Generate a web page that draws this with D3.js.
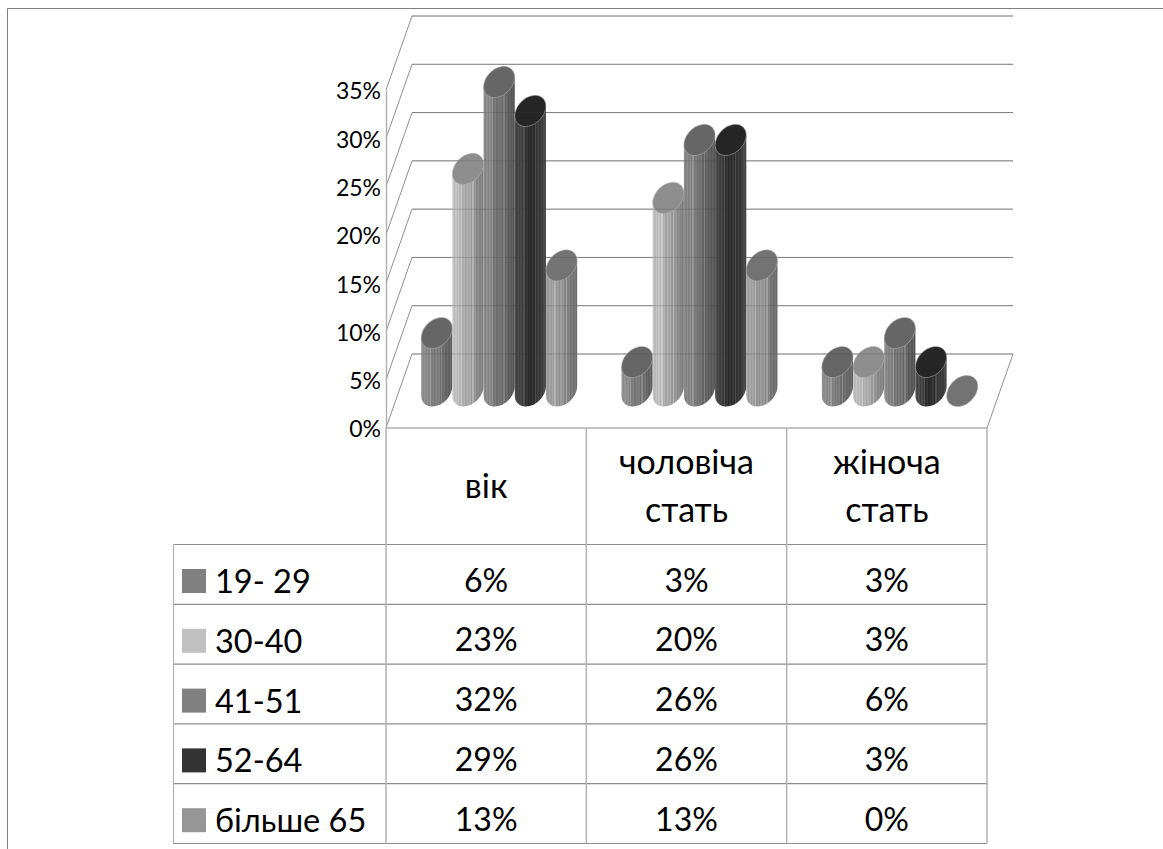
<!DOCTYPE html>
<html lang="uk">
<head>
<meta charset="utf-8">
<title>Розподіл за віком і статтю</title>
<script src="https://cdn.jsdelivr.net/npm/d3@7"></script>
<style>
  html, body { margin: 0; background: #fff; }
  svg { display: block; }
  text { font-family: "Lato", "Noto Sans", sans-serif; fill: #000; }
</style>
</head>
<body>
<svg id="chart" width="1163" height="849"></svg>
<script>
// Chart data, one list per age group, in percent
const categories = ["вік", "чоловіча стать", "жіноча стать"];
const ageGroups = ["19- 29", "30-40", "41-51", "52-64", "більше 65"];
const age19to29 = [6, 3, 3];
const age30to40 = [23, 20, 3];
const age41to51 = [32, 26, 6];
const age52to64 = [29, 26, 3];
const age65plus = [13, 13, 0];
const seriesValues = [age19to29, age30to40, age41to51, age52to64, age65plus];
const yTicks = [0, 5, 10, 15, 20, 25, 30, 35];

// Greys for each age group: legend swatch, cap, and body shading left/middle/right
const swatchColors = ["#808080", "#c0c0c0", "#808080", "#333333", "#969696"];
const capColors = ["#666666", "#8e8e8e", "#666666", "#262626", "#737373"];
const bodyShades = [
  ["#949494", "#7c7c7c", "#606060"],
  ["#c6c6c6", "#aaaaaa", "#7e7e7e"],
  ["#909090", "#747474", "#565656"],
  ["#505050", "#2c2c2c", "#484848"],
  ["#a6a6a6", "#969696", "#6c6c6c"]
];

const svg = d3.select("#chart");
const defs = svg.append("defs");

// Plot frame in screen space
const frontLeft = 386, frontRight = 987, floorFront = 428, axisTop = 90;
const depthX = 26, depthY = 74;
const gridColor = "#8f8f8f", tableH = "#8c8c8c", tableV = "#b2b2b2";

const y = d3.scaleLinear().domain([0, 35]).range([floorFront, axisTop]);
const xCat = d3.scaleBand().domain(d3.range(categories.length)).range([frontLeft, frontRight]);
const xAge = d3.scaleBand().domain(d3.range(ageGroups.length)).range([-78, 78]);

// Outer border of the drawing area, open at right and bottom
svg.append("path")
  .attr("d", "M7.5,849V8.5H1163")
  .attr("fill", "none").attr("stroke", "#7f7f7f").attr("stroke-width", 1);

// Back wall gridlines and the matching diagonals on the side wall
const wall = svg.append("g").attr("fill", "none").attr("stroke", gridColor);
yTicks.forEach(t => {
  const f = y(t), b = f - depthY;
  wall.append("path")
    .attr("d", `M${frontLeft},${f}L${frontLeft + depthX},${b}H${frontRight + depthX}`);
});
// Right edge of the floor
wall.append("path")
  .attr("d", `M${frontRight},${floorFront}L${frontRight + depthX},${floorFront - depthY}`);

// Value axis
const axis = d3.axisLeft(y).tickValues(yTicks).tickSize(0).tickPadding(5)
  .tickFormat(d => d + "%");
const axisG = svg.append("g").attr("transform", `translate(${frontLeft},0)`).call(axis);
axisG.select(".domain").attr("stroke", tableV).attr("stroke-width", 1.5);
axisG.selectAll("text")
  .attr("dy", "0.39em")
  .style("font-family", '"Lato", "Noto Sans", sans-serif').style("font-size", "23px").attr("fill", "#000");

// Cylinders: tilted elliptical caps over a vertically banded body
const capA = 17.8, capB = 13, capAngle = 45;
const rad = capAngle * Math.PI / 180;
const halfW = Math.sqrt(capA * capA * Math.cos(rad) ** 2 + capB * capB * Math.sin(rad) ** 2);
const tangentDy = (capA * capA - capB * capB) * Math.sin(rad) * Math.cos(rad) / halfW;
const bandCount = 22;
const bandTweak = [0, -9, 5, -5, 9, -3, 22, -7, 3, -10, 6, -2, 8, -8, 24, -4, 5, -9, 2, -6, 7, -3];

function buildBodyGradient(id, shades, cx) {
  const grad = defs.append("linearGradient").attr("id", id)
    .attr("gradientUnits", "userSpaceOnUse")
    .attr("x1", cx - halfW).attr("x2", cx + halfW).attr("y1", 0).attr("y2", 0);
  const tone = d3.scaleLinear().domain([0, 0.5, 1]).range(shades).interpolate(d3.interpolateRgb);
  d3.range(bandCount).forEach(i => {
    const c = d3.rgb(tone((i + 0.5) / bandCount));
    const k = bandTweak[i];
    const col = d3.rgb(c.r + k, c.g + k, c.b + k).formatHex();
    grad.append("stop").attr("offset", i / bandCount).attr("stop-color", col);
    grad.append("stop").attr("offset", (i + 1) / bandCount).attr("stop-color", col);
  });
}

const bars = svg.append("g");
categories.forEach((_, c) => {
  const groupMid = xCat(c) + xCat.bandwidth() / 2 + depthX / 2;
  seriesValues.forEach((values, s) => {
    const v = values[c];
    const cx = groupMid + xAge(s) + xAge.bandwidth() / 2;
    const yTop = y(v) - depthY / 2;
    const yBase = y(0) - depthY / 2;
    const g = bars.append("g");
    if (v > 0) {
      const id = `body-${c}-${s}`;
      buildBodyGradient(id, bodyShades[s], cx);
      // Body outline in screen space so the bands stay vertical
      g.append("path")
        .attr("d", `M${cx - halfW},${yTop + tangentDy}L${cx + halfW},${yTop - tangentDy}` +
                   `V${yBase - tangentDy}` +
                   `A${capA},${capB} ${-capAngle} 0 1 ${cx - halfW},${yBase + tangentDy}Z`)
        .attr("fill", `url(#${id})`);
    }
    g.append("ellipse")
      .attr("rx", capA).attr("ry", capB)
      .attr("transform", `translate(${cx},${yTop}) rotate(${-capAngle})`)
      .attr("fill", capColors[s])
      .attr("stroke", "#b4b4b4").attr("stroke-width", 0.5);
  });
});

// Gridlines show faintly through the translucent cylinders
const through = svg.append("g").attr("stroke", "#3c3c3c").attr("stroke-opacity", 0.22);
yTicks.forEach(t => {
  through.append("line")
    .attr("x1", frontLeft + depthX).attr("x2", frontRight + depthX)
    .attr("y1", y(t) - depthY).attr("y2", y(t) - depthY);
});

// Data table under the plot
const headerBottom = 544.5, rowHeight = 59.8;
const legendLeft = 173.5;
const rowY = d3.scaleLinear().domain([0, ageGroups.length])
  .range([headerBottom, headerBottom + rowHeight * ageGroups.length]);
const tableBottom = rowY(ageGroups.length);
const table = svg.append("g");

table.append("line").attr("x1", frontLeft).attr("x2", frontRight)
  .attr("y1", floorFront).attr("y2", floorFront).attr("stroke", tableH).attr("stroke-width", 1.2);
d3.range(ageGroups.length + 1).forEach(i => {
  table.append("line").attr("x1", legendLeft).attr("x2", frontRight)
    .attr("y1", rowY(i)).attr("y2", rowY(i)).attr("stroke", tableH).attr("stroke-width", 1.2);
});
d3.range(categories.length + 1).forEach(i => {
  const xv = frontLeft + i * xCat.bandwidth();
  table.append("line").attr("x1", xv).attr("x2", xv)
    .attr("y1", floorFront).attr("y2", tableBottom).attr("stroke", tableV).attr("stroke-width", 1.5);
});
table.append("line").attr("x1", legendLeft).attr("x2", legendLeft)
  .attr("y1", headerBottom).attr("y2", tableBottom).attr("stroke", tableV).attr("stroke-width", 1.2);

// Column headers, wrapped on the space
const headerFont = 34, valueFont = 32, legendFont = 32.5;
categories.forEach((name, c) => {
  const mid = xCat(c) + xCat.bandwidth() / 2;
  const words = name.split(" ");
  const baselines = words.length === 1 ? [498] : [474, 522];
  words.forEach((w, i) => {
    table.append("text").attr("x", mid).attr("y", baselines[i])
      .attr("text-anchor", "middle").style("font-size", headerFont + "px").text(w);
  });
});

// Legend keys and value cells
ageGroups.forEach((label, s) => {
  const top = rowY(s);
  table.append("rect").attr("x", 182).attr("y", top + 24.5).attr("width", 24).attr("height", 24)
    .attr("fill", swatchColors[s]);
  table.append("text").attr("x", 215).attr("y", top + 48.5)
    .style("font-size", legendFont + "px").text(label);
  categories.forEach((_, c) => {
    table.append("text")
      .attr("x", xCat(c) + xCat.bandwidth() / 2).attr("y", top + 47)
      .attr("text-anchor", "middle").style("font-size", valueFont + "px")
      .text(seriesValues[s][c] + "%");
  });
});
</script>
</body>
</html>
